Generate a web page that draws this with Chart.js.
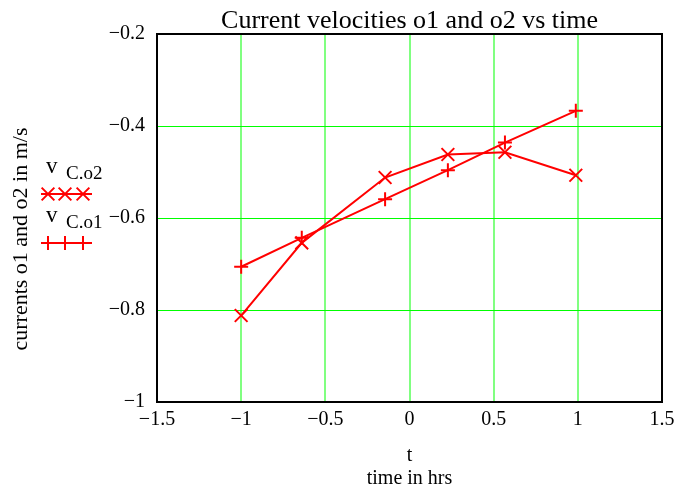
<!DOCTYPE html>
<html>
<head>
<meta charset="utf-8">
<script src="https://cdn.jsdelivr.net/npm/chart.js@4.4.0/dist/chart.umd.min.js"></script>
<style>
  html, body { margin: 0; padding: 0; background: #fff; }
  #wrap { width: 678px; height: 491px; }
</style>
</head>
<body>
<div id="wrap"><canvas id="chart" width="678" height="491"></canvas></div>
<script>
// ── Data ───────────────────────────────────────────────────
const tHrs = [-1.0, -0.64, -0.145, 0.228, 0.567, 0.988];
const velO1 = [-0.706, -0.643, -0.559, -0.496, -0.436, -0.367];
const velO2 = [-0.812, -0.654, -0.512, -0.462, -0.457, -0.507];
const xTicks = [-1.5, -1, -0.5, 0, 0.5, 1, 1.5];
const yTicks = [-1, -0.8, -0.6, -0.4, -0.2];

const SERIF = "'Liberation Serif', 'Times New Roman', serif";
const RED = '#ff0000';

const fmt = v => String(parseFloat(v.toFixed(2))).replace('-', '\u2212');

// ── Frame, title, axis labels, legend ──────────────────────
const decor = {
  id: 'decor',
  beforeDatasetsDraw(chart) {
    const { ctx, chartArea: a } = chart;
    ctx.save();
    ctx.strokeStyle = '#000';
    ctx.lineWidth = 2;
    ctx.strokeRect(a.left, a.top, a.right - a.left, a.bottom - a.top);
    ctx.restore();
  },
  afterDraw(chart) {
    const { ctx, chartArea: a } = chart;
    const cx = (a.left + a.right) / 2;
    ctx.save();
    ctx.fillStyle = '#000';
    ctx.textAlign = 'center';
    ctx.textBaseline = 'alphabetic';
    ctx.font = `26px ${SERIF}`;
    ctx.fillText('Current velocities o1 and o2 vs time', cx, 28);
    ctx.font = `20px ${SERIF}`;
    ctx.fillText('t', cx, 461);
    ctx.fillText('time in hrs', cx, 484);

    ctx.save();
    ctx.translate(27, 239);
    ctx.rotate(-Math.PI / 2);
    ctx.font = `22px ${SERIF}`;
    ctx.fillText('currents o1 and o2 in m/s', 0, 0);
    ctx.restore();

    // legend
    const items = [
      { sub: 'C.o2', ds: chart.data.datasets[0], y: 173, my: 194 },
      { sub: 'C.o1', ds: chart.data.datasets[1], y: 222, my: 243 }
    ];
    ctx.textAlign = 'left';
    items.forEach(it => {
      ctx.fillStyle = '#000';
      ctx.font = `23px ${SERIF}`;
      ctx.fillText('v', 46, it.y);
      ctx.font = `19px ${SERIF}`;
      ctx.fillText(it.sub, 66, it.y + 6);
      ctx.strokeStyle = RED;
      ctx.lineWidth = 2;
      ctx.beginPath();
      ctx.moveTo(41, it.my);
      ctx.lineTo(92, it.my);
      ctx.stroke();
      [48, 65, 83].forEach(x => {
        Chart.helpers.drawPoint(ctx, {
          pointStyle: it.ds.pointStyle, radius: it.ds.pointRadius,
          rotation: 0, borderWidth: 2
        }, x, it.my);
      });
    });
    ctx.restore();
  }
};

new Chart(document.getElementById('chart'), {
  type: 'scatter',
  data: {
    datasets: [
      {
        label: 'vC.o2',
        data: tHrs.map((t, i) => ({ x: t, y: velO2[i] })),
        showLine: true,
        borderColor: RED,
        backgroundColor: RED,
        borderWidth: 2,
        pointStyle: 'crossRot',
        pointRadius: 9,
        pointBorderWidth: 2,
        pointBorderColor: RED
      },
      {
        label: 'vC.o1',
        data: tHrs.map((t, i) => ({ x: t, y: velO1[i] })),
        showLine: true,
        borderColor: RED,
        backgroundColor: RED,
        borderWidth: 2,
        pointStyle: 'cross',
        pointRadius: 7,
        pointBorderWidth: 2,
        pointBorderColor: RED
      }
    ]
  },
  options: {
    responsive: false,
    animation: false,
    devicePixelRatio: 1,
    layout: { padding: { top: 34, right: 16, left: 0, bottom: 0 } },
    plugins: { legend: { display: false }, tooltip: { enabled: false }, title: { display: false } },
    scales: {
      x: {
        type: 'linear',
        min: -1.5, max: 1.5,
        afterBuildTicks: s => { s.ticks = xTicks.map(v => ({ value: v })); },
        afterFit: s => { s.height = 89; s.paddingLeft = 0; s.paddingRight = 0; },
        ticks: { color: '#000', font: { family: SERIF, size: 20 }, padding: 6, maxRotation: 0, callback: fmt },
        grid: { color: '#80ff80', lineWidth: 2, drawTicks: false },
        border: { display: false }
      },
      y: {
        type: 'linear',
        min: -1, max: -0.2,
        afterBuildTicks: s => { s.ticks = yTicks.map(v => ({ value: v })); },
        afterFit: s => { s.width = 157; s.paddingTop = 0; s.paddingBottom = 0; },
        ticks: { color: '#000', font: { family: SERIF, size: 20 }, padding: 12, callback: fmt },
        grid: { color: '#00ff00', lineWidth: 1, drawTicks: false },
        border: { display: false }
      }
    }
  },
  plugins: [decor]
});
</script>
</body>
</html>
